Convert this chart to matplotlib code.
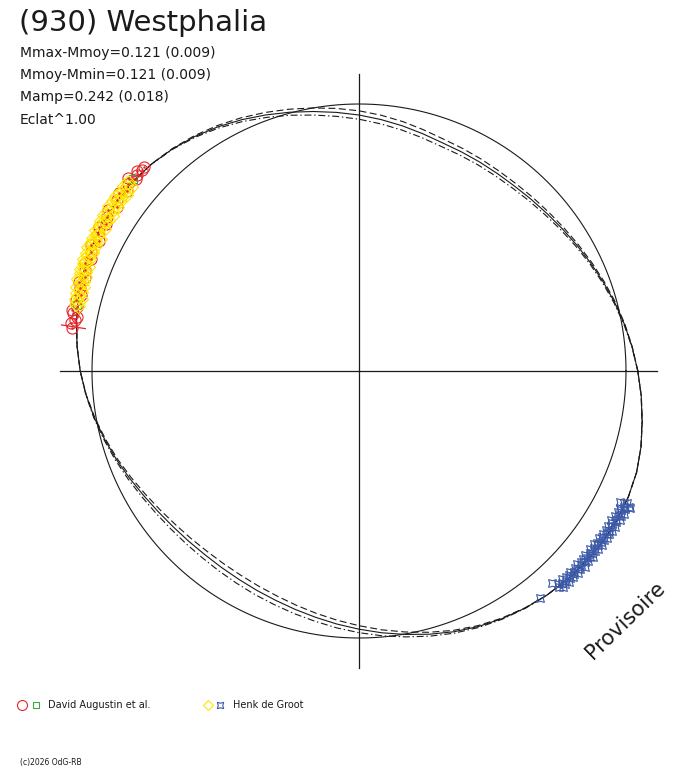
import numpy as np
import matplotlib.pyplot as plt

plt.rcParams['font.family'] = ['DejaVu Sans']
plt.rcParams['lines.scale_dashes'] = False

# ---- fitted lightcurves, radius read every 5 deg of rotation phase ----
curve_deg = [0, 5, 10, 15, 20, 25, 30, 35, 40, 45, 50, 55, 60, 65, 70, 75, 80, 85, 90, 95,
             100, 105, 110, 115, 120, 125, 130, 135, 140, 145, 150, 155, 160, 165, 170, 175,
             180, 185, 190, 195, 200, 205, 210, 215, 220, 225, 230, 235, 240, 245, 250, 255,
             260, 265, 270, 275, 280, 285, 290, 295, 300, 305, 310, 315, 320, 325, 330, 335,
             340, 345, 350, 355, 360]
fit_solid = [278.8, 274.2, 269.5, 264.7, 260.0, 255.6, 251.6, 248.1, 245.2, 243.1, 241.6, 241.1,
             241.3, 241.9, 243.0, 245.7, 249.0, 252.4, 256.0, 259.6, 263.5, 267.9, 272.5, 277.3,
             282.0, 286.3, 290.0, 293.0, 295.0, 295.9, 295.7, 294.6, 292.8, 290.2, 286.9, 283.0,
             278.8, 274.0, 268.8, 263.4, 258.3, 253.3, 248.8, 245.2, 242.5, 240.8, 239.8, 239.8,
             240.5, 242.0, 244.0, 246.8, 250.1, 254.0, 258.2, 262.8, 267.5, 272.5, 277.5, 282.0,
             286.0, 289.5, 292.5, 294.8, 296.5, 297.6, 298.0, 297.3, 295.5, 292.0, 287.5, 283.3,
             278.8]
fit_dashed = [278.8, 274.4, 270.0, 265.5, 261.0, 256.8, 253.1, 249.9, 247.4, 245.6, 244.4, 244.1,
              244.6, 245.5, 246.8, 249.7, 253.2, 256.7, 260.2, 263.6, 267.1, 271.0, 275.1, 279.3,
              283.4, 287.2, 290.4, 293.1, 295.0, 295.9, 295.7, 294.6, 292.8, 290.2, 286.9, 283.0,
              278.8, 273.8, 268.3, 262.6, 257.1, 251.6, 246.6, 242.5, 239.3, 237.2, 235.8, 235.5,
              236.0, 237.4, 239.5, 242.5, 246.1, 250.2, 254.7, 259.8, 265.0, 270.5, 276.0, 281.0,
              285.4, 289.2, 292.5, 294.8, 296.5, 297.6, 298.0, 297.3, 295.5, 292.0, 287.7, 283.4,
              278.8]
fit_dashdot = [278.8, 274.0, 269.0, 263.9, 259.0, 254.4, 250.1, 246.3, 243.0, 240.6, 238.8, 238.1,
               238.0, 238.3, 239.2, 241.7, 244.8, 248.1, 251.8, 255.6, 259.9, 264.8, 269.9, 275.3,
               280.6, 285.4, 289.6, 292.9, 295.0, 295.9, 295.7, 294.6, 292.8, 290.2, 286.9, 283.0,
               278.8, 274.2, 269.3, 264.2, 259.5, 255.0, 251.0, 247.9, 245.7, 244.4, 243.8, 244.1,
               245.0, 246.6, 248.5, 251.1, 254.1, 257.8, 261.7, 265.8, 270.0, 274.5, 279.0, 283.0,
               286.6, 289.8, 292.5, 294.8, 296.5, 297.6, 298.0, 297.3, 295.5, 292.0, 287.3, 283.2,
               278.8]
circle_r = 267.0
axis_r = [298, 297, 299, 297]   # E, N, W, S

# ---- observations (phase angle in deg, radius) ----
# David Augustin et al.
red_deg = [136.5, 137.2, 138.0, 138.6, 139.3, 140.1, 141.0, 142.2, 143.5, 144.8, 146.0, 147.3,
           148.5, 149.8, 151.0, 152.3, 153.5, 154.8, 156.0, 157.3, 158.5, 159.8, 161.0, 162.3,
           163.5, 164.8, 166.0, 167.2, 168.0, 168.5, 169.2, 169.8, 170.6, 171.5]
red_r = [297.0, 295.8, 298.5, 296.1, 294.0, 301.0, 297.5, 293.5, 299.0, 296.0, 292.5, 298.0,
         295.5, 293.0, 297.5, 294.5, 291.0, 296.5, 293.5, 290.5, 295.0, 292.0, 289.5, 293.5,
         290.5, 288.5, 292.0, 289.0, 293.0, 291.8, 287.5, 288.5, 291.5, 290.2]
red_err_deg = 171.2
red_err_r = 289.0
red_err = 12.0
green_deg = [139.6, 166.8]
green_r = [296.5, 289.6]

# Henk de Groot
yellow_deg = [140.6, 141.0, 141.4, 141.8, 142.2, 142.6, 143.0, 143.4, 143.8, 144.2, 144.6, 145.0,
              145.4, 145.8, 146.2, 146.6, 147.0, 147.4, 147.8, 148.2, 148.6, 149.0, 149.4, 149.8,
              150.2, 150.6, 151.0, 151.4, 151.8, 152.2, 152.6, 153.0, 153.4, 153.8, 154.2, 154.6,
              155.0, 155.4, 155.8, 156.2, 156.6, 157.0, 157.4, 157.8, 158.2, 158.6, 159.0, 159.4,
              159.8, 160.2, 160.6, 161.0, 161.4, 161.8, 162.2, 162.6, 163.0, 163.4, 163.8, 164.2,
              164.6, 165.0, 165.4, 165.8, 166.2, 166.6, 167.0]
yellow_r = [298.5, 293.0, 296.5, 299.5, 294.0, 297.0, 292.0, 298.0, 295.0, 300.0, 293.5, 296.0,
            298.5, 292.5, 295.5, 299.0, 294.0, 297.5, 291.5, 296.0, 298.5, 293.0, 295.5, 299.0,
            294.5, 297.5, 292.0, 296.0, 298.5, 293.5, 295.0, 291.0, 297.0, 294.0, 296.5, 292.0,
            295.5, 298.0, 293.0, 291.5, 296.0, 294.5, 292.0, 297.0, 293.5, 295.5, 290.5, 294.0,
            296.5, 291.5, 295.0, 289.5, 293.0, 295.5, 290.0, 292.5, 288.5, 294.0, 291.0, 289.0,
            293.0, 290.5, 287.5, 292.0, 289.5, 291.0, 288.0]
blue_deg = [308.6, 312.3, 312.8, 313.1, 313.4, 313.7, 314.0, 314.3, 314.6, 314.9, 315.2, 315.5,
            315.8, 316.1, 316.4, 316.7, 317.0, 317.3, 317.6, 317.9, 318.2, 318.5, 318.8, 319.1,
            319.4, 319.7, 320.0, 320.3, 320.6, 320.9, 321.2, 321.5, 321.8, 322.1, 322.4, 322.7,
            323.0, 323.3, 323.6, 323.9, 324.2, 324.5, 324.8, 325.1, 325.4, 325.7, 326.0, 326.3,
            326.6, 326.9, 327.2, 327.5, 327.8, 328.1, 328.4, 328.7, 329.0, 329.3, 329.6, 329.9,
            330.2, 330.5, 330.8, 331.1, 331.4, 331.7, 332.0, 332.3, 332.6, 332.9, 333.2, 333.5,
            333.8, 333.2, 333.4]
blue_r = [290.3, 286.6, 295.0, 291.5, 297.0, 293.5, 296.0, 290.5, 294.5, 298.0, 292.0, 295.5,
          293.0, 297.5, 291.0, 296.0, 294.0, 298.5, 292.5, 295.0, 297.0, 291.5, 294.5, 299.0,
          293.0, 296.0, 292.5, 297.5, 294.5, 291.0, 296.5, 299.0, 293.5, 295.5, 292.0, 297.0,
          294.0, 298.5, 291.5, 295.5, 293.5, 299.0, 296.0, 292.5, 297.5, 294.5, 299.5, 293.0,
          296.5, 298.0, 294.0, 297.0, 299.5, 293.5, 296.0, 300.0, 295.0, 292.5, 298.0, 296.5,
          300.5, 294.0, 297.5, 299.0, 295.0, 301.0, 297.0, 294.5, 299.5, 297.5, 302.0, 296.0,
          299.0, 304.0, 291.5]

title = "(930) Westphalia"
info_lines = ["Mmax-Mmoy=0.121 (0.009)", "Mmoy-Mmin=0.121 (0.009)",
              "Mamp=0.242 (0.018)", "Eclat^1.00"]
observers = ["David Augustin et al.", "Henk de Groot"]

RED = '#e6262b'
GREEN = '#3aa83a'
YELLOW = '#ffe600'
BLUE = '#3d5aa8'
INK = '#1a1a1a'

W, H = 688, 768
cx, cy, R = 359, 371, 300

fig = plt.figure(figsize=(W / 100, H / 100), dpi=100)
ax = fig.add_axes([(cx - R) / W, (H - cy - R) / H, 2 * R / W, 2 * R / H], projection='polar')
ax.set_ylim(0, R)
ax.set_axis_off()

rad = np.radians

# cross through the centre
for ang, r in zip([0, 90, 180, 270], axis_r):
    ax.plot([rad(ang), rad(ang)], [0, r], color=INK, lw=0.9, clip_on=False)

# reference circle
t = np.linspace(0, 2 * np.pi, 721)
ax.plot(t, np.full_like(t, circle_r), color=INK, lw=0.8, clip_on=False)

# fitted curves
th = rad(np.array(curve_deg))
ax.plot(th, fit_solid, color=INK, lw=0.8, clip_on=False)
ax.plot(th, fit_dashed, color=INK, lw=0.8, ls=(0, (5, 2.5)), clip_on=False)
ax.plot(th, fit_dashdot, color=INK, lw=0.8, ls=(0, (5, 2, 1, 2)), clip_on=False)

# observations
ax.plot(rad(np.array(red_deg)), red_r, 'o', ms=8, mfc='none', mec=RED, mew=0.8, clip_on=False)
ax.plot([rad(red_err_deg)] * 2, [red_err_r - red_err, red_err_r + red_err], color=RED, lw=0.9,
        clip_on=False)
ax.plot(rad(np.array(green_deg)), green_r, 's', ms=5.5, mfc='none', mec=GREEN, mew=0.8,
        clip_on=False)
ax.plot(rad(np.array(yellow_deg)), yellow_r, 'D', ms=7.5, mfc='none', mec=YELLOW, mew=0.8,
        clip_on=False)
ax.plot(rad(np.array(red_deg)), red_r, '.', ms=1.5, color=RED, clip_on=False)
ax.plot(rad(np.array(blue_deg)), blue_r, marker=(4, 1, 45), ls='none', ms=8, mfc='none',
        mec=BLUE, mew=0.8, clip_on=False)

# text layer in pixel coordinates
tx = fig.add_axes([0, 0, 1, 1])
tx.set_xlim(0, W)
tx.set_ylim(H, 0)
tx.set_axis_off()

tx.text(19, 31, title, fontsize=21, color=INK, va='baseline')
for i, line in enumerate(info_lines):
    tx.text(20, 57 + i * 22.2, line, fontsize=10, color=INK, va='baseline')

tx.text(625, 620, "Provisoire", fontsize=15, color=INK, rotation=44, ha='center', va='center')

# legend
ly = 705
tx.plot(22, ly, 'o', ms=7.2, mfc='none', mec=RED, mew=0.8)
tx.plot(35.5, ly, 's', ms=5, mfc='none', mec=GREEN, mew=0.8)
tx.text(48, ly, observers[0], fontsize=7, color=INK, va='center')
tx.plot(208, ly, 'D', ms=5.5, mfc='none', mec=YELLOW, mew=0.8)
tx.plot(220, ly, marker=(4, 1, 45), ms=6.5, mfc='none', mec=BLUE, mew=0.8)
tx.text(233, ly, observers[1], fontsize=7, color=INK, va='center')

tx.text(20, 763, "(c)2026 OdG-RB", fontsize=5.5, color=INK, va='center')

fig.savefig('out.png', dpi=100)
